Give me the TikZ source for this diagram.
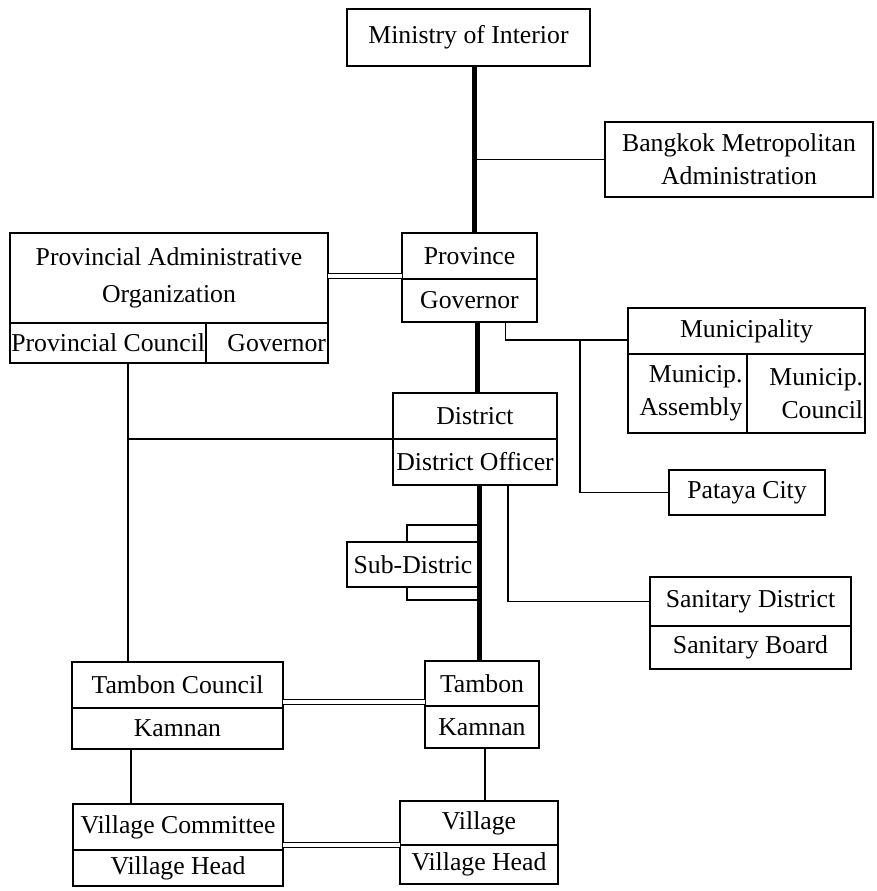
\documentclass[tikz,border=0pt]{standalone}
\usepackage{fontspec}
\setmainfont{Liberation Serif}
\usetikzlibrary{positioning}

\begin{document}
\begin{tikzpicture}[x=0.025cm, y=-0.025cm,
        basic/.style = {draw, rectangle, line width=1.2pt, outer sep=0pt, inner xsep=1pt, inner ysep=0pt,
                        align=center, font=\fontsize{18.3}{23.5}\selectfont},
        trunk/.style = {line width=3.5pt},
        stem/.style  = {line width=1.8pt},
        link/.style  = {line width=1.1pt},
        pair/.style  = {double, double distance=3pt, line width=0.9pt},
        node distance=0pt]

    \useasboundingbox (0,0) rectangle (876,891);

    % ministry and bangkok
    \node[basic, minimum width=6.075cm, minimum height=1.425cm] (moi) at (468.5,37.5) {Ministry of Interior};
    \node[basic, minimum width=6.7cm, minimum height=1.875cm] (bma) at (739,159.5) {Bangkok Metropolitan \\ Administration};

    % province level
    \node[basic, minimum width=7.95cm, minimum height=2.25cm] (pao) at (169,278) {Provincial Administrative \\[3pt] Organization};
    \node[basic, minimum width=4.9cm, minimum height=1cm, anchor=north west] (paoc) at (pao.south west) {Provincial Council};
    \node[basic, minimum width=3.05cm, minimum height=1cm, anchor=north east, text width=2.95cm, align=right] (paog) at (pao.south east) {Governor};

    \node[basic, minimum width=3.375cm, minimum height=1.15cm] (prov) at (469.5,256) {Province};
    \node[basic, minimum width=3.375cm, minimum height=1.075cm, below=of prov] (provg) {Governor};

    \node[basic, minimum width=5.925cm, minimum height=1.15cm] (mun) at (746.5,331) {Municipality};
    \node[basic, minimum width=2.975cm, minimum height=1.975cm, anchor=north west, text width=2.75cm, align=right] (muna) at (mun.south west) {Municip. \\ Assembly};
    \node[basic, minimum width=2.95cm, minimum height=1.975cm, anchor=north east, text width=2.85cm, align=right] (munc) at (mun.south east) {Municip. \\ Council};

    % district level
    \node[basic, minimum width=4.1cm, minimum height=1.15cm] (dist) at (475,416) {District};
    \node[basic, minimum width=4.1cm, minimum height=1.15cm, below=of dist] (disto) {District Officer};

    \node[basic, minimum width=3.9cm, minimum height=1.125cm] (pat) at (747,492.5) {Pataya City};
    \node[basic, minimum width=3.3cm, minimum height=1.125cm] (sub) at (413,564.5) {Sub-Distric};

    \node[basic, minimum width=5.025cm, minimum height=1.225cm] (san) at (750.5,601.5) {Sanitary District};
    \node[basic, minimum width=5.025cm, minimum height=1.075cm, below=of san] (sanb) {Sanitary Board};

    % tambon level
    \node[basic, minimum width=5.275cm, minimum height=1.15cm] (tc) at (177.5,685) {Tambon Council};
    \node[basic, minimum width=5.275cm, minimum height=1.025cm, below=of tc] (tck) {Kamnan};

    \node[basic, minimum width=2.85cm, minimum height=1.125cm] (tam) at (482,683.5) {Tambon};
    \node[basic, minimum width=2.85cm, minimum height=1.05cm, below=of tam] (tamk) {Kamnan};

    % village level
    \node[basic, minimum width=5.25cm, minimum height=1.15cm] (vc) at (178,827) {Village Committee};
    \node[basic, minimum width=5.25cm, minimum height=0.9cm, below=of vc] (vch) {Village Head};

    \node[basic, minimum width=3.95cm, minimum height=1.1cm] (vil) at (479,823) {Village};
    \node[basic, minimum width=3.95cm, minimum height=0.975cm, below=of vil] (vilh) {Village Head};

    % joints on the vertical lines
    \coordinate (mtop) at ([xshift=0.15cm]moi.south);
    \coordinate (ptop) at ([xshift=0.5cm]paoc.south);
    \coordinate (mjoin) at (580,340);

    % main chain of command
    \draw[trunk] (mtop) -- (mtop |- prov.north);
    \draw[trunk] ([xshift=0.2cm]provg.south) -- ([xshift=0.2cm]provg.south |- dist.north);
    \draw[trunk] ([xshift=0.12cm]disto.south) -- ([xshift=0.12cm]disto.south |- tam.north);
    \draw[stem] ([xshift=0.08cm]tamk.south) -- ([xshift=0.08cm]tamk.south |- vil.north);

    % side branches
    \draw[link] (bma.west) -- (bma.west -| mtop);
    \draw[link] ([xshift=0.9cm]provg.south) |- ([yshift=-0.225cm]mun.west);
    \draw[link] (mjoin) |- (pat.west);
    \draw[link] ([xshift=0.825cm]disto.south) |- (san.west);

    % sub-district bracket
    \draw[link] ([xshift=-0.15cm]sub.north) |- ([yshift=0.425cm]sub.north east);
    \draw[link] ([xshift=-0.15cm]sub.south) |- ([yshift=-0.325cm]sub.south east);

    % local government line
    \draw[stem] (ptop) -- (ptop |- tc.north);
    \draw[link] (dist.south west) -- (dist.south west -| ptop);
    \draw[stem] ([xshift=-1.16cm]tck.south) -- ([xshift=-1.16cm]tck.south |- vc.north);

    % double links between the two lines
    \draw[pair] ([yshift=0.05cm]pao.east) -- ([yshift=0.05cm]pao.east -| prov.west);
    \draw[pair] ([yshift=0.15cm]tc.south east) -- ([yshift=0.15cm]tc.south east -| tam.west);
    \draw[pair] ([yshift=0.125cm]vc.south east) -- ([yshift=0.125cm]vc.south east -| vil.west);

\end{tikzpicture}
\end{document}
